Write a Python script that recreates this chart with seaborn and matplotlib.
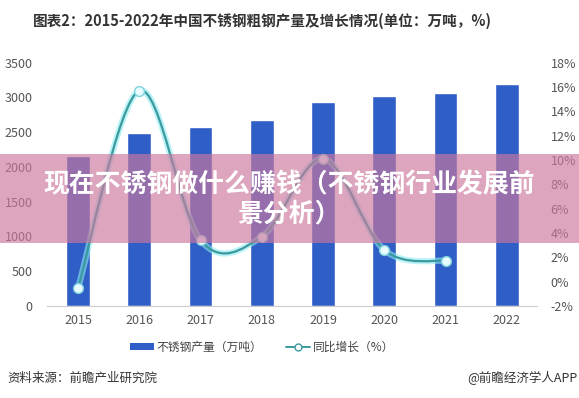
import numpy as np
import pandas as pd
import matplotlib
matplotlib.use("Agg")
import matplotlib.pyplot as plt
import seaborn as sns
from matplotlib.path import Path
from matplotlib.patches import PathPatch, Rectangle
from matplotlib.lines import Line2D
from matplotlib.patches import Patch

# data
years = ["2015", "2016", "2017", "2018", "2019", "2020", "2021", "2022"]
output = [2156, 2494, 2577, 2671, 2940, 3014, 3063, 3197]      # 万吨
growth_years = ["2015", "2016", "2017", "2018", "2019", "2020", "2021"]
growth = [-0.5, 15.7, 3.4, 3.7, 10.1, 2.6, 1.7]                 # %

sns.set_theme(style="white")
plt.rcParams['font.family'] = ['Noto Sans CJK SC', 'DejaVu Sans']

bar_color = "#2F5EC6"
line_color = "#3A9A9E"

fig = plt.figure(figsize=(5.79, 3.98), dpi=100)
ax = fig.add_axes([0.0819, 0.2312, 0.8463, 0.6113])

df = pd.DataFrame({"year": years, "output": output})
sns.barplot(data=df, x="year", y="output", color=bar_color, saturation=1,
            width=0.39, ax=ax)
ax.set_ylim(0, 3500)
ax.set_yticks(range(0, 3501, 500))
ax.set_xlim(-0.5, len(years) - 0.5)
ax.set_xlabel("")
ax.set_ylabel("")
for s in ["top", "right", "left"]:
    ax.spines[s].set_visible(False)
ax.spines["bottom"].set_color("#cccccc")
ax.spines["bottom"].set_linewidth(0.8)
ax.tick_params(axis="both", length=0, labelsize=9, colors="#555555", pad=6)
ax.tick_params(axis="y", pad=10.5)

ax2 = ax.twinx()
ax2.set_ylim(-2, 18)
ax2.set_yticks(range(-2, 19, 2))
ax2.set_yticklabels([f"{v}%" for v in range(-2, 19, 2)])
for s in ["top", "right", "left", "bottom"]:
    ax2.spines[s].set_visible(False)
ax2.tick_params(axis="y", length=0, labelsize=9, colors="#555555", pad=9.5)
ax2.grid(False)

# smooth line through the growth points (Catmull-Rom as bezier segments)
xs = np.array([years.index(y) for y in growth_years], dtype=float)
ys = np.array(growth, dtype=float)
pts = np.column_stack([xs, ys])
verts = [tuple(pts[0])]
codes = [Path.MOVETO]
n = len(pts)
for i in range(n - 1):
    p0 = pts[i - 1] if i > 0 else pts[i]
    p1 = pts[i]
    p2 = pts[i + 1]
    p3 = pts[i + 2] if i + 2 < n else pts[i + 1]
    c1 = p1 + (p2 - p0) / 6
    c2 = p2 - (p3 - p1) / 6
    verts += [tuple(c1), tuple(c2), tuple(p2)]
    codes += [Path.CURVE4] * 3
path = Path(verts, codes)
ax2.add_patch(PathPatch(path, facecolor="none", edgecolor="#8FEAF2",
                        lw=4.5, alpha=0.6, zorder=3))
ax2.add_patch(PathPatch(path, facecolor="none", edgecolor=line_color,
                        lw=1.6, zorder=4))
gdf = pd.DataFrame({"x": xs, "growth": ys})
sns.scatterplot(data=gdf, x="x", y="growth", ax=ax2, s=50, color="#E8FBFF",
                edgecolor="#7FD3DC", linewidth=1.0, zorder=5, legend=False)
ax2.set_xlabel("")
ax2.set_ylabel("")

# title
fig.text(0.057, 0.948, "图表2：2015-2022年中国不锈钢粗钢产量及增长情况(单位：万吨，%)",
         fontsize=10.5, fontweight="bold", color="#333333", va="center", ha="left")

# legend
handles = [Patch(facecolor=bar_color, edgecolor="none"),
           Line2D([0], [0], color=line_color, lw=1.4, marker="o", markersize=5,
                  markerfacecolor="white", markeredgecolor=line_color)]
fig.legend(handles, ["不锈钢产量（万吨）", "同比增长（%）"], loc="center",
           bbox_to_anchor=(0.4525, 0.128), ncol=2, frameon=False, fontsize=8.5,
           labelcolor="#444444", handlelength=2.0, handleheight=0.6,
           columnspacing=2.0, handletextpad=0.25)

# footer
fig.text(0.012, 0.05, "资料来源：前瞻产业研究院", fontsize=9, color="#333333",
         va="center", ha="left")
fig.text(0.998, 0.05, "@前瞻经济学人APP", fontsize=9, color="#333333",
         va="center", ha="right")

# pink article banner over the picture
fig.patches.append(Rectangle((0, 1 - 243 / 398), 1, 89 / 398,
                             transform=fig.transFigure, facecolor="#CC779D",
                             alpha=0.66, edgecolor="none", zorder=10))
fig.text(0.5, 1 - 185 / 398, "现在不锈钢做什么赚钱（不锈钢行业发展前",
         fontsize=18.6, fontweight="bold", color="white", ha="center",
         va="center", zorder=11)
fig.text(0.5, 1 - 214 / 398, "景分析）", fontsize=18.6, fontweight="bold",
         color="white", ha="center", va="center", zorder=11)

fig.savefig("out.png", dpi=100)
